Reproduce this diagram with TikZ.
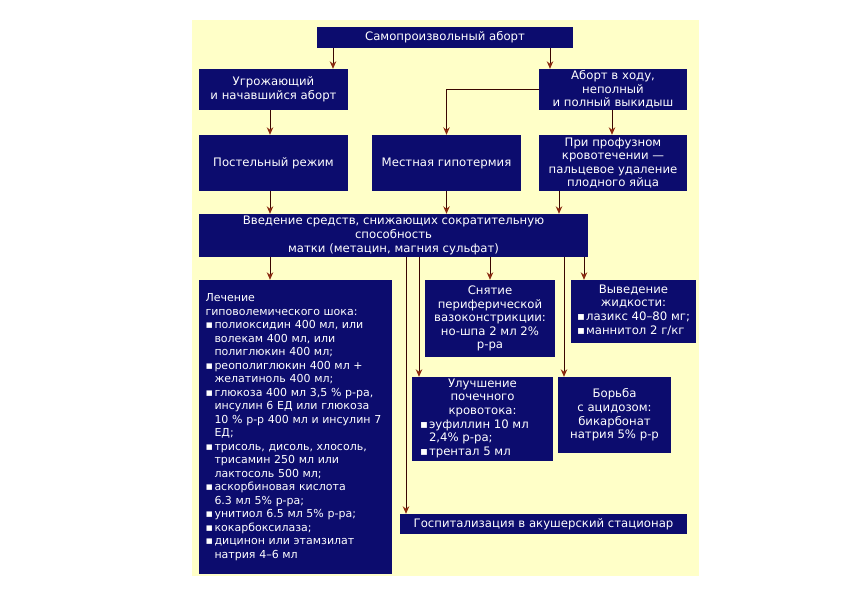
\documentclass[tikz,border=0pt]{standalone}
\usepackage{fontspec}
\setmainfont{DejaVu Sans}
\usetikzlibrary{arrows.meta}
\definecolor{bgy}{HTML}{FFFFC8}
\definecolor{navy}{HTML}{0C0C6E}
\definecolor{linec}{HTML}{3A0600}
\definecolor{arrc}{HTML}{8B2A10}
\newcommand{\bulit}{\makebox[9pt][l]{▪}}
\newcommand{\indt}{\hspace*{9pt}}
\begin{document}
\begin{tikzpicture}[x=1pt,y=-1pt,
  box/.style={fill=navy, text=white, inner sep=0pt, align=center,
    font=\fontsize{11.7}{13.6}\selectfont},
  conn/.style={draw=linec, line width=0.9pt,
    -{Stealth[length=7.5pt,width=6.5pt,color=arrc]}}]
\useasboundingbox (0,0) rectangle (842,596);
\fill[bgy] (192,20) rectangle (699,576);

\node[box, minimum width=256pt, minimum height=21pt] (A) at (445,37.5) {Самопроизвольный аборт};
\node[box, minimum width=149pt, minimum height=41pt] (B) at (273.5,89.5) {Угрожающий\\и начавшийся аборт};
\node[box, minimum width=148pt, minimum height=41pt] (C) at (613,89.5) {Аборт в ходу,\\неполный\\и полный выкидыш};
\node[box, minimum width=149pt, minimum height=56pt] (D) at (273.5,163) {Постельный режим};
\node[box, minimum width=149pt, minimum height=56pt] (E) at (446.5,163) {Местная гипотермия};
\node[box, minimum width=148pt, minimum height=56pt] (F) at (613,163) {При профузном\\кровотечении —\\пальцевое удаление\\плодного яйца};
\node[box, minimum width=389pt, minimum height=43pt] (G) at (393.5,235.5) {Введение средств, снижающих сократительную\\способность\\матки (метацин, магния сульфат)};
\node[box, minimum width=193pt, minimum height=294pt, text width=180pt, align=left,
  font=\fontsize{11}{13.5}\selectfont] (H) at (295.5,427) {Лечение\\
гиповолемического шока:\\
\bulit полиоксидин 400 мл, или\\
\indt волекам 400 мл, или\\
\indt полиглюкин 400 мл;\\
\bulit реополиглюкин 400 мл +\\
\indt желатиноль 400 мл;\\
\bulit глюкоза 400 мл 3,5 \% р-ра,\\
\indt инсулин 6 ЕД или глюкоза\\
\indt 10 \% р-р 400 мл и инсулин 7\\
\indt ЕД;\\
\bulit трисоль, дисоль, хлосоль,\\
\indt трисамин 250 мл или\\
\indt лактосоль 500 мл;\\
\bulit аскорбиновая кислота\\
\indt 6.3 мл 5\% р-ра;\\
\bulit унитиол 6.5 мл 5\% р-ра;\\
\bulit кокарбоксилаза;\\
\bulit дицинон или этамзилат\\
\indt натрия 4–6 мл};
\node[box, minimum width=130pt, minimum height=77pt] (I) at (490,318.5) {Снятие\\периферической\\вазоконстрикции:\\но-шпа 2 мл 2\%\\р-ра};
\node[box, minimum width=125pt, minimum height=63pt] (J) at (633.5,311.5) {Выведение\\жидкости:\\\begin{tabular}[t]{@{}l@{}}\bulit лазикс 40–80 мг;\\\bulit маннитол 2 г/кг\end{tabular}};
\node[box, minimum width=141pt, minimum height=84pt] (K) at (482.5,419) {Улучшение\\почечного\\кровотока:\\\begin{tabular}[t]{@{}p{125pt}@{}}\bulit эуфиллин 10 мл\\\indt 2,4\% р-ра;\\\bulit трентал 5 мл\end{tabular}};
\node[box, minimum width=113pt, minimum height=76pt] (L) at (614.5,415) {Борьба\\с ацидозом:\\бикарбонат\\натрия 5\% р-р};
\node[box, minimum width=287pt, minimum height=20pt] (M) at (543.5,524) {Госпитализация в акушерский стационар};

\draw[conn] (A.south -| 333,0) -- (B.north -| 333,0);
\draw[conn] (A.south -| 550,0) -- (C.north -| 550,0);
\draw[conn] (B.south -| 270,0) -- (D.north -| 270,0);
\draw[conn] (C.west) -| (E.north);
\draw[conn] (C.south -| 612,0) -- (F.north -| 612,0);
\draw[conn] (D.south -| 270,0) -- (G.north -| 270,0);
\draw[conn] (E.south) -- (E.south |- G.north);
\draw[conn] (F.south -| 559,0) -- (G.north -| 559,0);
\draw[conn] (G.south -| 270,0) -- (H.north -| 270,0);
\draw[conn] (G.south -| 406,0) -- (M.north -| 406,0);
\draw[conn] (G.south -| 419,0) -- (K.north -| 419,0);
\draw[conn] (G.south -| I.north) -- (I.north);
\draw[conn] (G.south -| 564,0) -- (L.north -| 564,0);
\draw[conn] (G.south -| 584,0) -- (J.north -| 584,0);
\end{tikzpicture}
\end{document}
